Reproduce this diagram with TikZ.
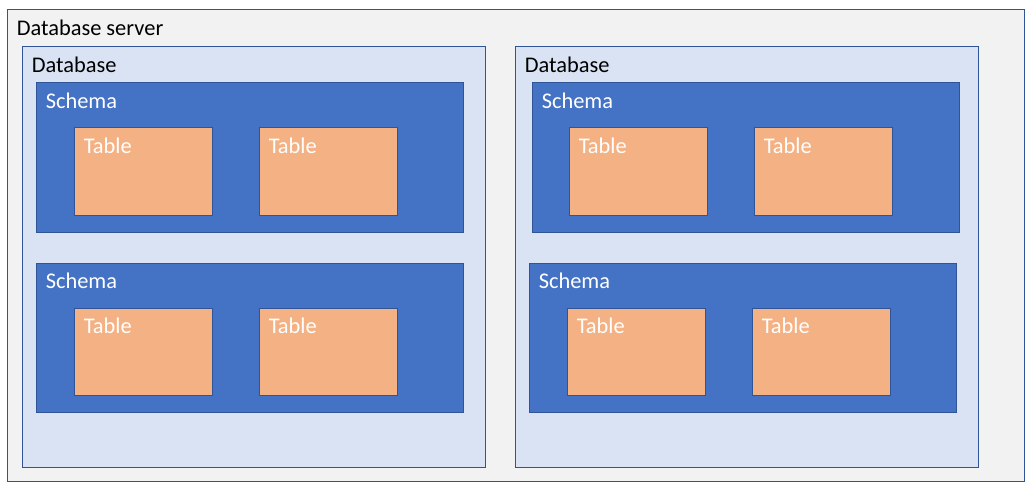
\documentclass[tikz,border=0pt]{standalone}
\usepackage{fontspec}
\setmainfont{Carlito}
\definecolor{srvfill}{HTML}{F2F2F2}
\definecolor{edgeblue}{HTML}{2F5597}
\definecolor{dbfill}{HTML}{DAE3F3}
\definecolor{schfill}{HTML}{4472C4}
\definecolor{tblfill}{HTML}{F4B183}
\newcommand\mkbox[7]{%
  \node[#2, minimum width=#5*0.75pt, minimum height=#6*0.75pt] (#1) at (#3,#4) {};
  \node[#2label] (#1-t) at (#3+9.5,#4+25.5) {#7};}
\begin{document}
\begin{tikzpicture}[x=0.75pt,y=-0.75pt,
  box/.style={draw=edgeblue, line width=0.75pt, anchor=north west, inner sep=0pt, outer sep=0pt},
  server/.style={box, fill=srvfill},
  db/.style={box, fill=dbfill},
  schema/.style={box, fill=schfill},
  tbl/.style={box, fill=tblfill},
  lbl/.style={anchor=base west, inner sep=0pt, font=\fontsize{16.8pt}{20pt}\selectfont},
  serverlabel/.style={lbl, text=black},
  dblabel/.style={lbl, text=black},
  schemalabel/.style={lbl, text=white},
  tbllabel/.style={lbl, text=white}]
\useasboundingbox (0,0) rectangle (1036,492);
\fill[white] (0,0) rectangle (1036,492);
\mkbox{srv}{server}{7}{10}{1017}{471}{Database server}
\mkbox{dbL}{db}{22}{47}{463}{420}{Database}
\mkbox{dbR}{db}{515}{47}{463}{420}{Database}
\mkbox{sL1}{schema}{36}{83}{427}{149}{Schema}
\mkbox{sL2}{schema}{36}{263}{427}{149}{Schema}
\mkbox{sR1}{schema}{532}{83}{427}{149}{Schema}
\mkbox{sR2}{schema}{529}{263}{427}{149}{Schema}
\mkbox{tL1a}{tbl}{74}{128}{138}{87}{Table}
\mkbox{tL1b}{tbl}{259}{128}{138}{87}{Table}
\mkbox{tL2a}{tbl}{74}{308}{138}{87}{Table}
\mkbox{tL2b}{tbl}{259}{308}{138}{87}{Table}
\mkbox{tR1a}{tbl}{569}{128}{138}{87}{Table}
\mkbox{tR1b}{tbl}{754}{128}{138}{87}{Table}
\mkbox{tR2a}{tbl}{567}{308}{138}{87}{Table}
\mkbox{tR2b}{tbl}{752}{308}{138}{87}{Table}
\end{tikzpicture}
\end{document}
